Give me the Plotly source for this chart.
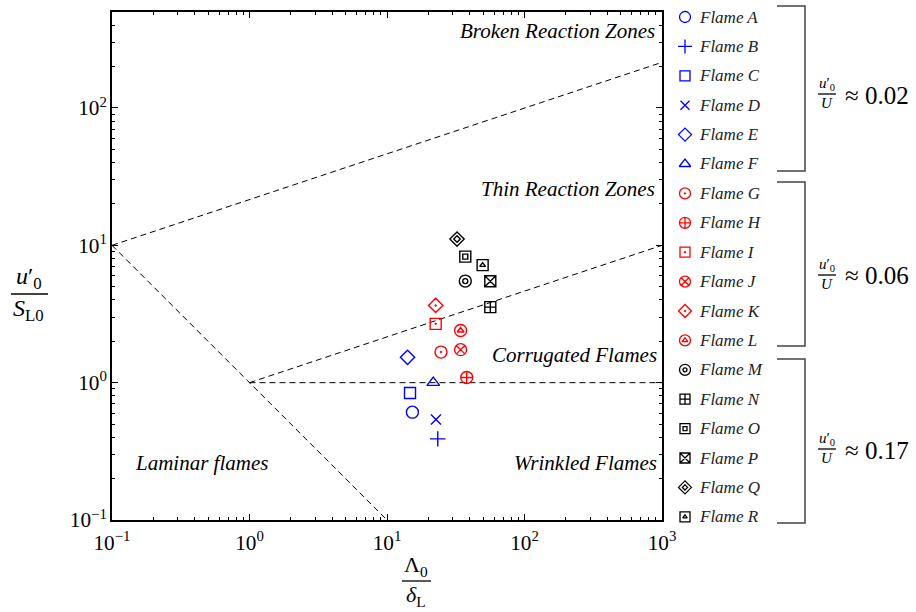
import plotly.graph_objects as go

W, H = 916, 612

# ---------------- data ----------------
flames = ["A", "B", "C", "D", "E", "F", "G", "H", "I",
          "J", "K", "L", "M", "N", "O", "P", "Q", "R"]
lambda_over_delta = [15.3, 23.4, 14.7, 22.7, 14.1, 21.7,
                     24.7, 38.0, 22.6, 34.3, 22.6, 34.3,
                     37.1, 56.4, 37.1, 56.4, 32.3, 49.6]
u_over_s = [0.61, 0.39, 0.84, 0.54, 1.53, 1.00,
            1.67, 1.09, 2.68, 1.74, 3.65, 2.40,
            5.49, 3.55, 8.27, 5.47, 11.1, 7.18]
intensity_groups = ["0.02"] * 6 + ["0.06"] * 6 + ["0.17"] * 6
group_names = ["0.02", "0.06", "0.17"]

# regime boundaries (Borghi diagram)
ka1_x, ka1_y = [1, 1000], [1, 10]
ka100_x, ka100_y = [0.1, 1000], [10, 215]
re1_x, re1_y = [0.1, 10], [10, 0.1]
da1_x, da1_y = [1, 1000], [1, 1]

regime_labels = ["Broken Reaction Zones", "Thin Reaction Zones",
                 "Corrugated Flames", "Wrinkled Flames", "Laminar flames"]

# ---------------- styles ----------------
group_colors = {"0.02": "#0000ff", "0.06": "#ff0000", "0.17": "#000000"}
symbols = {
    "A": [("circle-open", 12)],
    "B": [("cross-thin-open", 11)],
    "C": [("square-open", 11)],
    "D": [("x-thin-open", 10)],
    "E": [("diamond-open", 11)],
    "F": [("triangle-up-open", 11)],
    "G": [("circle-open-dot", 12)],
    "H": [("circle-cross-open", 12)],
    "I": [("square-open-dot", 11)],
    "J": [("circle-x-open", 12)],
    "K": [("diamond-open-dot", 11)],
    "L": [("circle-open", 12), ("triangle-up-open", 6)],
    "M": [("circle-open", 12), ("circle-open", 5)],
    "N": [("square-cross-open", 11)],
    "O": [("square-open", 11), ("square-open", 5)],
    "P": [("square-x-open", 11)],
    "Q": [("diamond-open", 11), ("diamond-open", 5)],
    "R": [("square-open", 11), ("triangle-up-open", 5)],
}
SERIF = "Liberation Serif, Times New Roman, serif"


def xp(px):
    return px / W


def yp(py):
    return 1 - py / H


fig = go.Figure()
shapes = []
annotations = []

# regime boundary lines
for lx, ly in [(ka1_x, ka1_y), (ka100_x, ka100_y), (re1_x, re1_y), (da1_x, da1_y)]:
    fig.add_trace(go.Scatter(x=lx, y=ly, mode="lines",
                             line=dict(color="black", width=1, dash="6px,4px"),
                             showlegend=False, hoverinfo="skip"))

# flame data points
for i, f in enumerate(flames):
    col = group_colors[intensity_groups[i]]
    for sym, sz in symbols[f]:
        fig.add_trace(go.Scatter(
            x=[lambda_over_delta[i]], y=[u_over_s[i]], mode="markers",
            marker=dict(symbol=sym, size=sz, color=col,
                        line=dict(color=col, width=1.4)),
            name="Flame " + f, showlegend=False))

# custom legend (pixel-space helper axes)
row0, row_step = 17, 29.4
for i, f in enumerate(flames):
    col = group_colors[intensity_groups[i]]
    ry = row0 + row_step * i
    for sym, sz in symbols[f]:
        fig.add_trace(go.Scatter(
            x=[685], y=[ry], xaxis="x2", yaxis="y2", mode="markers",
            marker=dict(symbol=sym, size=max(sz - 1, 4), color=col,
                        line=dict(color=col, width=1.3)),
            showlegend=False, hoverinfo="skip"))
    annotations.append(dict(x=xp(697), y=yp(ry), xref="paper", yref="paper",
                            text="<i>Flame " + f + "</i>", showarrow=False,
                            xanchor="left", yanchor="middle",
                            font=dict(family=SERIF, size=17, color="#222")))

axis_common = dict(
    type="log", showline=True, linecolor="black", linewidth=1.5,
    mirror="allticks", ticks="inside", ticklen=6, tickwidth=1,
    tickcolor="black", showgrid=False, zeroline=False,
    dtick=1, exponentformat="power",
    labelalias={"1": "10<sup>0</sup>", "10": "10<sup>1</sup>"},
    tickfont=dict(family=SERIF, size=17, color="black"),
    minor=dict(ticks="inside", ticklen=3, tickcolor="black", showgrid=False),
)

# brackets
brackets = [(6, 171), (182, 346), (359, 523)]
for top, bot in brackets:
    shapes.append(dict(type="path", xref="paper", yref="paper",
                       path=f"M {xp(777)},{yp(top)} L {xp(805)},{yp(top)} "
                            f"L {xp(805)},{yp(bot)} L {xp(777)},{yp(bot)}",
                       line=dict(color="#444", width=1.5)))


def frac(cx, ly, x0, x1, num, den, size, gap=0):
    shapes.append(dict(type="line", xref="paper", yref="paper",
                       x0=xp(x0), x1=xp(x1), y0=yp(ly), y1=yp(ly),
                       line=dict(color="black", width=1.3)))
    annotations.append(dict(x=xp(cx), y=yp(ly - gap), xref="paper", yref="paper",
                            text=num, showarrow=False, xanchor="center",
                            yanchor="bottom", borderpad=0,
                            font=dict(family=SERIF, size=size, color="black")))
    annotations.append(dict(x=xp(cx), y=yp(ly + gap), xref="paper", yref="paper",
                            text=den, showarrow=False, xanchor="center",
                            yanchor="top", borderpad=0,
                            font=dict(family=SERIF, size=size, color="black")))


centers = [95, 276, 450]
for g, cy in zip(group_names, centers):
    frac(827, cy - 1, 818, 836, "<i>u</i>′<sub>0</sub>", "<i>U</i>", 15)
    annotations.append(dict(x=xp(843), y=yp(cy), xref="paper", yref="paper",
                            text="≈ " + g, showarrow=False, xanchor="left",
                            yanchor="middle",
                            font=dict(family=SERIF, size=25, color="black")))

# axis titles as fractions
frac(29, 294, 11, 48, "<i>u</i>′<sub>0</sub>", "<i>S</i><sub>L0</sub>", 24)
frac(416, 581, 402, 431, "Λ<sub>0</sub>", "<i>δ</i><sub>L</sub>", 22)

# regime labels
label_pos = [(657, 31, "right"), (657, 189, "right"), (659, 355, "right"),
             (659, 463, "right"), (133, 463, "left")]
for txt, (lx, ly, anc) in zip(regime_labels, label_pos):
    annotations.append(dict(x=xp(lx), y=yp(ly), xref="paper", yref="paper",
                            text="<i>" + txt + "</i>", showarrow=False,
                            xanchor=anc, yanchor="middle",
                            font=dict(family=SERIF, size=21, color="black")))

fig.update_layout(
    width=W, height=H,
    margin=dict(l=0, r=0, t=0, b=0, pad=0, autoexpand=False),
    paper_bgcolor="white", plot_bgcolor="rgba(0,0,0,0)",
    showlegend=False,
    xaxis=dict(domain=[xp(112), xp(662)], range=[-1, 3], anchor="y",
               ticklabelstandoff=4, **axis_common),
    yaxis=dict(domain=[yp(520), yp(12)], range=[-1, 2.69897], anchor="x", **axis_common),
    xaxis2=dict(domain=[0, 1], range=[0, W], anchor="y2", visible=False),
    yaxis2=dict(domain=[0, 1], range=[H, 0], anchor="x2", visible=False),
    shapes=shapes, annotations=annotations,
)

fig.write_html("out.html")
